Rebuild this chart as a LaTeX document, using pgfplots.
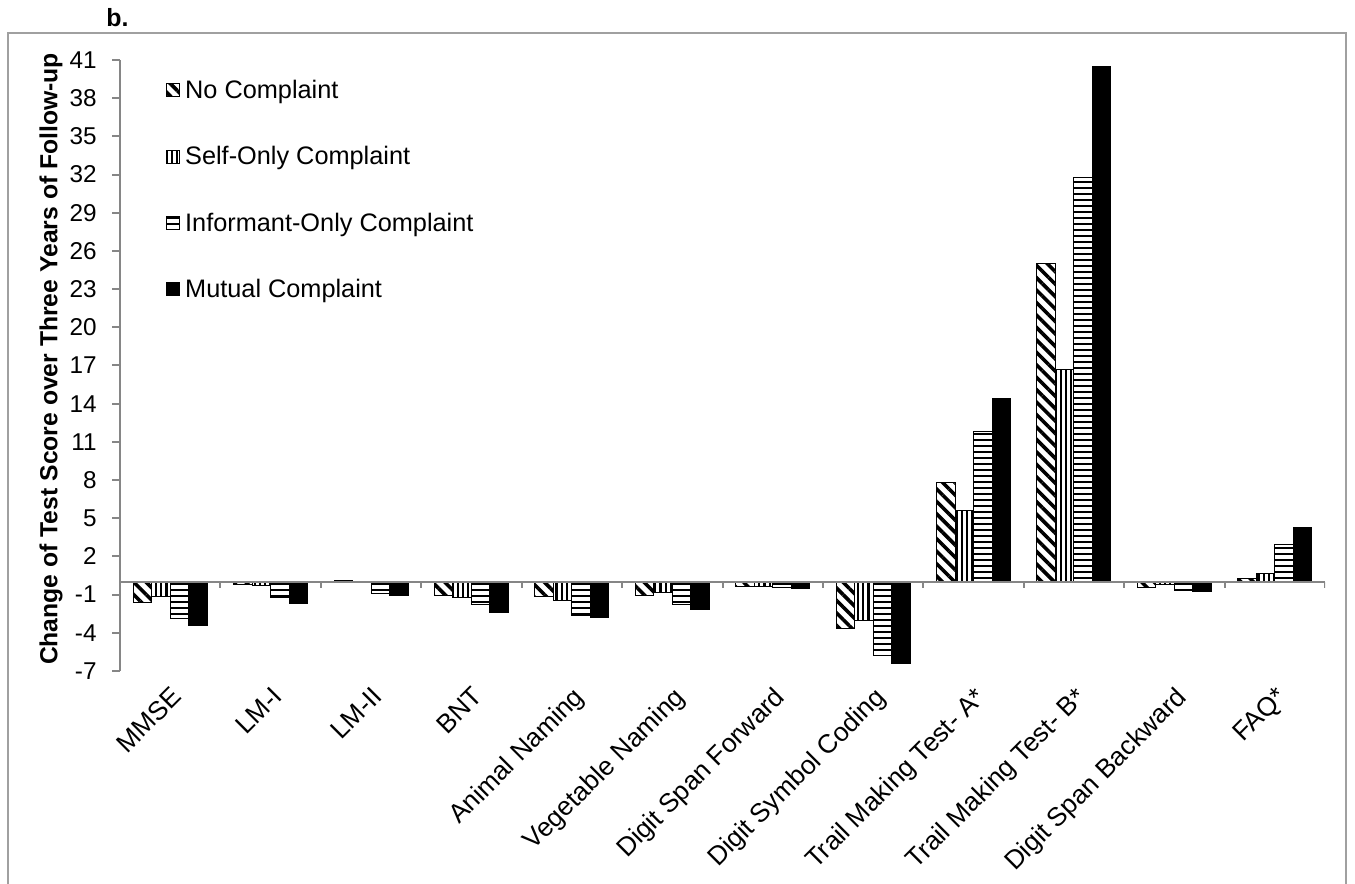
\documentclass[border=0pt]{standalone}
\usepackage{pgfplots}
\pgfplotsset{compat=1.18}
\usepackage{pgfplotstable}
\usetikzlibrary{patterns.meta}
\usepackage{fontspec}
\setmainfont{Liberation Sans}
\definecolor{framegray}{RGB}{160,160,160}
\definecolor{axisgray}{RGB}{134,134,134}

\pgfplotstableread{
x nc so io mc
0 -1.6 -1.15 -2.9 -3.4
1 -0.2 -0.3 -1.2 -1.7
2 0.1 0.02 -0.9 -1.1
3 -1.05 -1.25 -1.8 -2.4
4 -1.15 -1.5 -2.65 -2.8
5 -1.05 -0.8 -1.75 -2.15
6 -0.35 -0.35 -0.45 -0.55
7 -3.7 -3.0 -5.8 -6.45
8 7.8 5.6 11.8 14.4
9 25.0 16.65 31.8 40.5
10 -0.45 -0.2 -0.65 -0.75
11 0.3 0.65 2.95 4.3
}\datatable

\begin{document}
\begin{tikzpicture}
\path[use as bounding box] (0,0) rectangle (677.5bp,442bp);
\draw[framegray, line width=1bp] (4bp,-5bp) -- (4bp,425.5bp) -- (673bp,425.5bp) -- (673bp,-5bp);
\node[font=\bfseries\fontsize{12.5}{14}\selectfont, anchor=base west, inner sep=0pt] at (53bp,428.5bp) {b.};
\begin{axis}[
  scale only axis,
  width=602.5bp, height=305.5bp,
  at={(60bp,106.5bp)}, anchor=south west,
  xmin=-0.5, xmax=11.5,
  ymin=-7, ymax=41,
  axis y line*=left,
  axis x line*=bottom,
  x axis line style={draw=none},
  y axis line style={-, axisgray, line width=1bp},
  xtick=data,
  xticklabels={MMSE, LM-I, LM-II, BNT, Animal Naming, Vegetable Naming, Digit Span Forward, Digit Symbol Coding, Trail Making Test- A*, Trail Making Test- B*, Digit Span Backward, FAQ*},
  xtick style={draw=none},
  xticklabel style={font=\fontsize{13.2}{15}\selectfont, yshift=-1.5bp, rotate=45, anchor=north east, inner sep=1bp},
  ytick={-7,-4,...,41},
  yticklabels={-7,-4,-1,2,5,8,11,14,17,20,23,26,29,32,35,38,41},
  yticklabel style={font=\fontsize{12.2}{14}\selectfont, inner sep=1bp, xshift=-6.5bp},
  ytick style={axisgray, line width=1bp},
  tick align=outside,
  major tick length=4bp,
  ylabel={Change of Test Score over Three Years of Follow-up},
  ylabel style={font=\bfseries\fontsize{12.4}{14}\selectfont, at={(axis description cs:-0.0573,0.5106)}, anchor=center},
  ybar=0pt,
  bar width=9.25bp,
  legend cell align=left,
  legend style={draw=none, fill=none, at={(axis description cs:0.038,0.976)}, anchor=north west, font=\fontsize{12.7}{14}\selectfont, row sep=17.5bp, inner sep=0pt, nodes={inner sep=2.5bp}},
  legend image code/.code={\draw[#1, line width=0.5bp] (0bp,-3bp) rectangle (6.5bp,3.5bp);},
]
\addplot[draw=black, line width=0.5bp, pattern={Lines[angle=-45, distance=4.4bp, line width=1.8bp]}, pattern color=black] table[x=x, y=nc] {\datatable};
\addplot[draw=black, line width=0.5bp, pattern={Lines[angle=90, distance=2.6bp, line width=1.1bp]}, pattern color=black] table[x=x, y=so] {\datatable};
\addplot[draw=black, line width=0.5bp, pattern={Lines[angle=0, distance=3bp, line width=1.4bp]}, pattern color=black] table[x=x, y=io] {\datatable};
\addplot[draw=black, line width=0.5bp, fill=black] table[x=x, y=mc] {\datatable};
\legend{No Complaint, Self-Only Complaint, Informant-Only Complaint, Mutual Complaint}
\draw[axisgray, line width=1bp] (axis cs:-0.5,0) -- (axis cs:11.5,0);
\pgfplotsinvokeforeach{0.5,1.5,2.5,3.5,4.5,5.5,6.5,7.5,8.5,9.5,10.5,11.5}{
  \draw[axisgray, line width=1bp] (axis cs:#1,0) -- ([yshift=-3bp]axis cs:#1,0);
}
\end{axis}
\end{tikzpicture}
\end{document}
